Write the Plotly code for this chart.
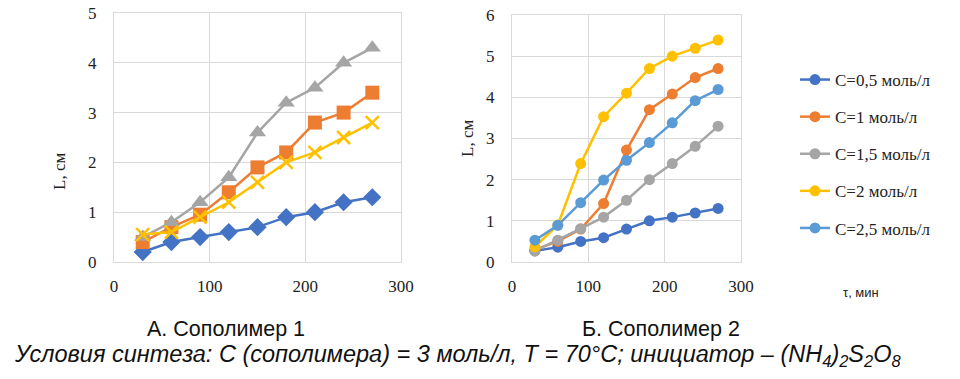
import plotly.graph_objects as go

# ---- data ----
t_min = [30, 60, 90, 120, 150, 180, 210, 240, 270]
series_names = ["C=0,5 моль/л", "C=1 моль/л", "C=1,5 моль/л", "C=2 моль/л", "C=2,5 моль/л"]

# Chart A (Сополимер 1)
a_c05 = [0.2, 0.4, 0.5, 0.6, 0.7, 0.9, 1.0, 1.2, 1.3]
a_c1 = [0.4, 0.7, 0.95, 1.4, 1.9, 2.2, 2.8, 3.0, 3.4]
a_c15 = [0.5, 0.8, 1.2, 1.7, 2.6, 3.2, 3.5, 4.0, 4.3]
a_c2 = [0.55, 0.6, 0.9, 1.2, 1.6, 2.0, 2.2, 2.5, 2.8]

# Chart B (Сополимер 2)
b_c05 = [0.27, 0.36, 0.5, 0.59, 0.8, 1.0, 1.09, 1.19, 1.3]
b_c1 = [0.3, 0.5, 0.8, 1.42, 2.72, 3.7, 4.08, 4.48, 4.7]
b_c15 = [0.27, 0.53, 0.81, 1.09, 1.5, 2.0, 2.39, 2.81, 3.3]
b_c2 = [0.37, 0.9, 2.39, 3.53, 4.1, 4.7, 5.0, 5.19, 5.39]
b_c25 = [0.53, 0.89, 1.44, 1.99, 2.47, 2.9, 3.38, 3.92, 4.19]

a_ticks_y = [0, 1, 2, 3, 4, 5]
b_ticks_y = [0, 1, 2, 3, 4, 5, 6]
ticks_x = [0, 100, 200, 300]

colors = ["#4472C4", "#ED7D31", "#A5A5A5", "#FFC000", "#5B9BD5"]

W, H = 960, 379
def px(x): return x / W
def py(y): return 1 - y / H

fig = go.Figure()

# Chart A traces
a_data = [a_c05, a_c1, a_c15, a_c2]
a_symbols = ["diamond", "square", "triangle-up", "x-thin-open"]
a_sizes = [14, 14, 15, 13]
for i, ys in enumerate(a_data):
    marker = dict(symbol=a_symbols[i], size=a_sizes[i], color=colors[i])
    if a_symbols[i] == "x-thin-open":
        marker["line"] = dict(width=2.5, color=colors[i])
    fig.add_trace(go.Scatter(
        x=t_min, y=ys, mode="lines+markers", name=series_names[i],
        line=dict(color=colors[i], width=2.5), marker=marker,
        xaxis="x", yaxis="y", showlegend=False))

# Chart B traces
b_data = [b_c05, b_c1, b_c15, b_c2, b_c25]
for i, ys in enumerate(b_data):
    fig.add_trace(go.Scatter(
        x=t_min, y=ys, mode="lines+markers", name=series_names[i],
        line=dict(color=colors[i], width=2.5),
        marker=dict(symbol="circle", size=11, color=colors[i]),
        xaxis="x2", yaxis="y2", legendgroup=str(i)))

serif = "Liberation Serif"
sans = "Liberation Sans"
grid = "#D9D9D9"

def axis(standoff, **kw):
    d = dict(showgrid=True, gridcolor=grid, gridwidth=1, showline=True,
             linecolor=grid, linewidth=1, mirror=True, zeroline=False,
             tickfont=dict(family=serif, size=17, color="#222222"),
             ticks="", ticklabelstandoff=standoff, automargin=False,
             ticklabeloverflow="allow", fixedrange=True)
    d.update(kw)
    return d

fig.update_layout(
    template="none",
    width=W, height=H,
    font=dict(family=serif, size=16, color="#222222"),
    margin=dict(l=0, r=0, t=0, b=0, pad=0, autoexpand=False),
    paper_bgcolor="white", plot_bgcolor="white",
    xaxis=axis(9, domain=[px(114), px(401)], range=[0, 300], tickvals=ticks_x, anchor="y"),
    yaxis=axis(13, domain=[py(262), py(13)], range=[0, 5], tickvals=a_ticks_y, anchor="x"),
    xaxis2=axis(9, domain=[px(512), px(741)], range=[0, 300], tickvals=ticks_x, anchor="y2"),
    yaxis2=axis(13, domain=[py(262), py(15)], range=[0, 6], tickvals=b_ticks_y, anchor="x2"),
    legend=dict(x=px(795), y=py(62), xanchor="left", yanchor="top",
                font=dict(family=serif, size=17, color="#222222"),
                tracegroupgap=12, bgcolor="rgba(0,0,0,0)", borderwidth=0,
                itemwidth=30),
)

ann = [
    dict(x=px(60), y=py(172), text="L, см", textangle=-90,
         font=dict(family=serif, size=17, color="#222222")),
    dict(x=px(468), y=py(139), text="L, см", textangle=-90,
         font=dict(family=serif, size=17, color="#222222")),
    dict(x=px(861), y=py(292), text="τ, мин",
         font=dict(family=sans, size=13, color="#222222")),
    dict(x=px(226), y=py(329), text="А. Сополимер 1",
         font=dict(family=sans, size=21.5, color="#111111")),
    dict(x=px(661), y=py(329), text="Б. Сополимер 2",
         font=dict(family=sans, size=21.5, color="#111111")),
    dict(x=px(457), y=py(355),
         text="<i>Условия синтеза: C (сополимера) = 3 моль/л, T = 70°C; инициатор – (NH<sub>4</sub>)<sub>2</sub>S<sub>2</sub>O<sub>8</sub></i>",
         font=dict(family=sans, size=23.5, color="#111111")),
]
for a in ann:
    a.update(xref="paper", yref="paper", xanchor="center", yanchor="middle",
             showarrow=False)
fig.update_layout(annotations=ann)

fig.write_html("out.html",
               config={"displayModeBar": False},
               post_script="document.body.style.margin='0';document.body.style.overflow='hidden';")
